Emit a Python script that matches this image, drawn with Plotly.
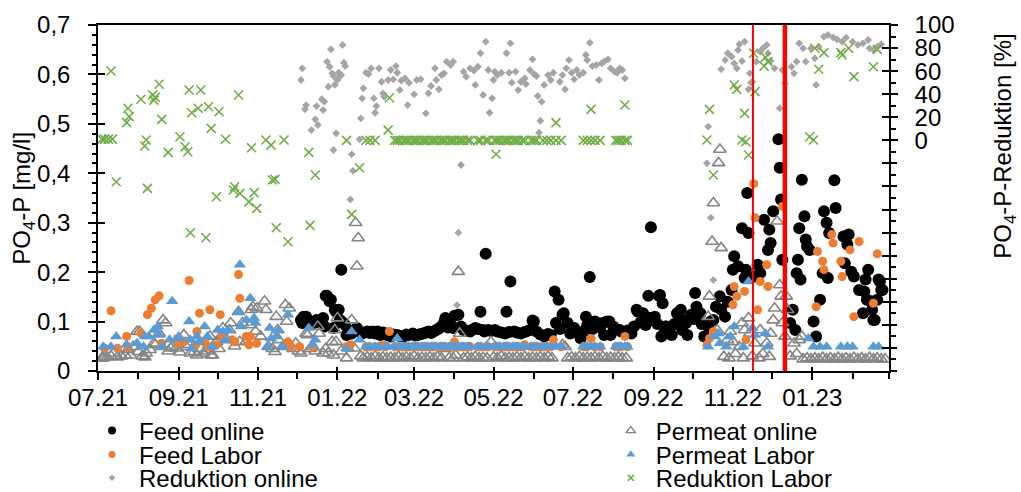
import plotly.graph_objects as go

# ---------------- data ----------------
feed_online_dates = [
    "2021-12-04", "2021-12-05", "2021-12-06", "2021-12-08", "2021-12-09", "2021-12-11", "2021-12-14",
    "2021-12-16", "2021-12-19", "2021-12-20", "2021-12-21", "2021-12-22", "2021-12-23", "2021-12-24",
    "2021-12-26", "2021-12-27", "2021-12-29", "2021-12-30", "2021-12-31", "2022-01-02", "2022-01-03",
    "2022-01-04", "2022-01-05", "2022-01-07", "2022-01-08", "2022-01-10", "2022-01-12", "2022-01-14",
    "2022-01-16", "2022-01-18", "2022-01-20", "2022-01-22", "2022-01-24", "2022-01-26", "2022-01-28",
    "2022-01-30", "2022-02-01", "2022-02-03", "2022-02-05", "2022-02-07", "2022-02-09", "2022-02-11",
    "2022-02-13", "2022-02-16", "2022-02-18", "2022-02-21", "2022-02-23", "2022-02-25", "2022-02-28",
    "2022-03-02", "2022-03-04", "2022-03-06", "2022-03-08", "2022-03-10", "2022-03-12", "2022-03-14",
    "2022-03-16", "2022-03-18", "2022-03-20", "2022-03-22", "2022-03-24", "2022-03-25", "2022-03-27",
    "2022-03-29", "2022-03-31", "2022-04-01", "2022-04-04", "2022-04-06", "2022-04-08", "2022-04-10",
    "2022-04-13", "2022-04-15", "2022-04-17", "2022-04-19", "2022-04-21", "2022-04-23", "2022-04-24",
    "2022-04-25", "2022-04-27", "2022-04-29", "2022-05-02", "2022-05-04", "2022-05-07", "2022-05-10",
    "2022-05-11", "2022-05-13", "2022-05-14", "2022-05-17", "2022-05-19", "2022-05-22", "2022-05-25",
    "2022-05-28", "2022-05-31", "2022-06-01", "2022-06-03", "2022-06-06", "2022-06-09", "2022-06-12",
    "2022-06-14", "2022-06-17", "2022-06-18", "2022-06-20", "2022-06-21", "2022-06-23", "2022-06-24",
    "2022-06-27", "2022-06-29", "2022-07-02", "2022-07-04", "2022-07-07", "2022-07-09", "2022-07-11",
    "2022-07-12", "2022-07-14", "2022-07-16", "2022-07-18", "2022-07-20", "2022-07-22", "2022-07-24",
    "2022-07-25", "2022-07-27", "2022-07-29", "2022-07-30", "2022-08-01", "2022-08-03", "2022-08-06",
    "2022-08-07", "2022-08-10", "2022-08-12", "2022-08-15", "2022-08-17", "2022-08-19", "2022-08-20",
    "2022-08-22", "2022-08-24", "2022-08-25", "2022-08-26", "2022-08-28", "2022-08-29", "2022-08-30",
    "2022-08-31", "2022-09-02", "2022-09-04", "2022-09-05", "2022-09-06", "2022-09-07", "2022-09-08",
    "2022-09-09", "2022-09-10", "2022-09-11", "2022-09-13", "2022-09-15", "2022-09-17", "2022-09-19",
    "2022-09-22", "2022-09-23", "2022-09-24", "2022-09-26", "2022-09-27", "2022-09-30", "2022-10-02",
    "2022-10-03", "2022-10-04", "2022-10-07", "2022-10-08", "2022-10-10", "2022-10-13", "2022-10-15",
    "2022-10-17", "2022-10-19", "2022-10-22", "2022-10-23", "2022-10-26", "2022-10-28", "2022-10-31",
    "2022-11-01", "2022-11-02", "2022-11-05", "2022-11-08", "2022-11-10", "2022-11-11", "2022-11-12",
    "2022-11-13", "2022-11-18", "2022-11-20", "2022-11-22", "2022-11-25", "2022-11-28", "2022-11-29",
    "2022-11-30", "2022-12-02", "2022-12-06", "2022-12-07", "2022-12-08", "2022-12-09", "2022-12-15",
    "2022-12-17", "2022-12-19", "2022-12-20", "2022-12-21", "2022-12-22", "2022-12-23", "2022-12-24",
    "2022-12-26", "2022-12-27", "2022-12-28", "2022-12-30", "2023-01-02", "2023-01-04", "2023-01-07",
    "2023-01-09", "2023-01-10", "2023-01-12", "2023-01-13", "2023-01-14", "2023-01-18", "2023-01-19",
    "2023-01-25", "2023-01-26", "2023-01-28", "2023-01-29", "2023-01-31", "2023-02-02", "2023-02-06",
    "2023-02-09", "2023-02-10", "2023-02-11", "2023-02-12", "2023-02-13", "2023-02-15", "2023-02-16",
    "2023-02-17", "2023-02-18", "2023-02-20", "2023-02-21", "2023-02-22", "2023-02-23", "2023-02-24",
]
feed_online_values = [
    0.103, 0.097, 0.110, 0.110, 0.100, 0.097, 0.097,
    0.103, 0.100, 0.097, 0.107, 0.090, 0.152, 0.152,
    0.141, 0.144, 0.087, 0.124, 0.120, 0.124, 0.103,
    0.205, 0.098, 0.093, 0.073, 0.080, 0.076, 0.083,
    0.087, 0.080, 0.076, 0.078, 0.080, 0.077, 0.080,
    0.076, 0.080, 0.073, 0.078, 0.076, 0.072, 0.070,
    0.074, 0.073, 0.071, 0.070, 0.074, 0.073, 0.076,
    0.072, 0.073, 0.075, 0.076, 0.078, 0.080, 0.077,
    0.080, 0.083, 0.086, 0.090, 0.098, 0.107, 0.088,
    0.093, 0.087, 0.112, 0.114, 0.090, 0.083, 0.082,
    0.080, 0.084, 0.087, 0.085, 0.120, 0.083, 0.080,
    0.237, 0.083, 0.081, 0.083, 0.080, 0.078, 0.076,
    0.120, 0.079, 0.181, 0.080, 0.078, 0.076, 0.079,
    0.082, 0.102, 0.100, 0.080, 0.074, 0.070, 0.075,
    0.073, 0.161, 0.097, 0.144, 0.085, 0.114, 0.117,
    0.097, 0.076, 0.087, 0.078, 0.066, 0.080, 0.110,
    0.093, 0.190, 0.085, 0.100, 0.093, 0.088, 0.097,
    0.073, 0.100, 0.100, 0.073, 0.090, 0.085, 0.083,
    0.080, 0.078, 0.082, 0.076, 0.090, 0.124, 0.120,
    0.098, 0.117, 0.110, 0.093, 0.152, 0.107, 0.291,
    0.103, 0.110, 0.095, 0.152, 0.154, 0.070, 0.137,
    0.076, 0.090, 0.090, 0.085, 0.073, 0.095, 0.117,
    0.124, 0.083, 0.103, 0.097, 0.073, 0.114, 0.105,
    0.158, 0.130, 0.117, 0.095, 0.070, 0.090, 0.100,
    0.103, 0.130, 0.151, 0.124, 0.110, 0.140, 0.164,
    0.205, 0.232, 0.212, 0.289, 0.188, 0.205, 0.360,
    0.279, 0.191, 0.215, 0.198, 0.306, 0.245, 0.286,
    0.259, 0.323, 0.469, 0.411, 0.347, 0.225, 0.097,
    0.124, 0.083, 0.198, 0.225, 0.289, 0.185, 0.387,
    0.313, 0.266, 0.252, 0.245, 0.100, 0.070, 0.144,
    0.198, 0.323, 0.300, 0.188, 0.279, 0.386, 0.330,
    0.272, 0.218, 0.256, 0.276, 0.201, 0.191, 0.164,
    0.117, 0.161, 0.185, 0.144, 0.205, 0.141, 0.124,
    0.103, 0.103, 0.144, 0.185, 0.181, 0.164, 0.164,
]

permeat_online_dates = [
    "2021-07-04", "2021-07-05", "2021-07-06", "2021-07-08", "2021-07-11", "2021-07-13", "2021-07-16",
    "2021-07-19", "2021-07-22", "2021-07-24", "2021-07-26", "2021-07-28", "2021-07-31", "2021-08-01",
    "2021-08-02", "2021-08-04", "2021-08-06", "2021-08-07", "2021-08-10", "2021-08-13", "2021-08-14",
    "2021-08-17", "2021-08-19", "2021-08-20", "2021-08-22", "2021-08-24", "2021-08-26", "2021-08-27",
    "2021-08-30", "2021-09-02", "2021-09-05", "2021-09-07", "2021-09-09", "2021-09-10", "2021-09-13",
    "2021-09-15", "2021-09-18", "2021-09-20", "2021-09-23", "2021-09-25", "2021-09-26", "2021-09-27",
    "2021-09-30", "2021-10-02", "2021-10-04", "2021-10-05", "2021-10-08", "2021-10-10", "2021-10-11",
    "2021-10-14", "2021-10-17", "2021-10-18", "2021-10-20", "2021-10-23", "2021-10-26", "2021-10-27",
    "2021-10-28", "2021-10-30", "2021-10-31", "2021-11-03", "2021-11-06", "2021-11-07", "2021-11-09",
    "2021-11-12", "2021-11-14", "2021-11-15", "2021-11-16", "2021-11-17", "2021-11-20", "2021-11-22",
    "2021-11-23", "2021-11-25", "2021-11-28", "2021-11-30", "2021-12-02", "2021-12-04", "2021-12-08",
    "2021-12-09", "2021-12-11", "2021-12-13", "2021-12-15", "2021-12-17", "2021-12-18", "2021-12-21",
    "2021-12-23", "2021-12-25", "2021-12-28", "2021-12-29", "2021-12-30", "2021-12-31", "2022-01-01",
    "2022-01-04", "2022-01-08", "2022-01-09", "2022-01-12", "2022-01-14", "2022-01-15", "2022-01-16",
    "2022-01-17", "2022-01-19", "2022-01-21", "2022-01-24", "2022-01-27", "2022-01-30", "2022-02-02",
    "2022-02-05", "2022-02-08", "2022-02-11", "2022-02-14", "2022-02-17", "2022-02-20", "2022-02-23",
    "2022-02-26", "2022-03-01", "2022-03-04", "2022-03-07", "2022-03-10", "2022-03-13", "2022-03-16",
    "2022-03-19", "2022-03-22", "2022-03-25", "2022-03-28", "2022-03-31", "2022-04-02", "2022-04-04",
    "2022-04-05", "2022-04-08", "2022-04-11", "2022-04-14", "2022-04-17", "2022-04-20", "2022-04-23",
    "2022-04-26", "2022-04-29", "2022-05-01", "2022-05-04", "2022-05-07", "2022-05-10", "2022-05-13",
    "2022-05-16", "2022-05-19", "2022-05-22", "2022-05-25", "2022-05-28", "2022-05-31", "2022-06-03",
    "2022-06-06", "2022-06-09", "2022-06-12", "2022-06-15", "2022-06-23", "2022-06-25", "2022-06-27",
    "2022-06-30", "2022-07-03", "2022-07-06", "2022-07-09", "2022-07-12", "2022-07-15", "2022-07-18",
    "2022-07-21", "2022-07-24", "2022-07-27", "2022-07-30", "2022-08-02", "2022-08-05", "2022-08-08",
    "2022-08-11", "2022-10-13", "2022-10-14", "2022-10-16", "2022-10-17", "2022-10-20", "2022-10-21",
    "2022-10-22", "2022-10-23", "2022-10-25", "2022-10-28", "2022-10-29", "2022-10-30", "2022-11-01",
    "2022-11-03", "2022-11-06", "2022-11-08", "2022-11-09", "2022-11-10", "2022-11-13", "2022-11-14",
    "2022-11-16", "2022-11-18", "2022-11-21", "2022-11-22", "2022-11-24", "2022-11-27", "2022-11-29",
    "2022-11-30", "2022-12-02", "2022-12-03", "2022-12-05", "2022-12-07", "2022-12-08", "2022-12-09",
    "2022-12-11", "2022-12-12", "2022-12-13", "2022-12-15", "2022-12-18", "2022-12-20", "2022-12-22",
    "2022-12-24", "2022-12-25", "2022-12-28", "2022-12-31", "2023-01-03", "2023-01-06", "2023-01-09",
    "2023-01-12", "2023-01-15", "2023-01-18", "2023-01-21", "2023-01-24", "2023-01-27", "2023-01-30",
    "2023-02-02", "2023-02-05", "2023-02-08", "2023-02-11", "2023-02-14", "2023-02-17", "2023-02-20",
    "2023-02-23", "2023-02-26",
]
permeat_online_values = [
    0.026, 0.026, 0.029, 0.028, 0.030, 0.036, 0.028,
    0.030, 0.032, 0.043, 0.032, 0.049, 0.080, 0.039,
    0.080, 0.030, 0.028, 0.036, 0.043, 0.056, 0.053,
    0.076, 0.049, 0.103, 0.097, 0.040, 0.046, 0.049,
    0.046, 0.038, 0.073, 0.049, 0.053, 0.036, 0.039,
    0.032, 0.045, 0.036, 0.040, 0.070, 0.032, 0.032,
    0.059, 0.045, 0.070, 0.087, 0.063, 0.083, 0.097,
    0.050, 0.120, 0.059, 0.097, 0.060, 0.093, 0.124,
    0.130, 0.080, 0.127, 0.070, 0.141, 0.124, 0.049,
    0.045, 0.039, 0.110, 0.083, 0.063, 0.049, 0.134,
    0.100, 0.127, 0.045, 0.056, 0.040, 0.036, 0.076,
    0.073, 0.045, 0.049, 0.040, 0.090, 0.076, 0.036,
    0.045, 0.036, 0.059, 0.032, 0.083, 0.059, 0.107,
    0.040, 0.026, 0.046, 0.103, 0.046, 0.300, 0.212,
    0.269, 0.030, 0.026, 0.028, 0.026, 0.030, 0.026,
    0.028, 0.026, 0.027, 0.026, 0.029, 0.026, 0.028,
    0.026, 0.030, 0.026, 0.027, 0.026, 0.028, 0.026,
    0.029, 0.026, 0.045, 0.027, 0.026, 0.032, 0.201,
    0.076, 0.026, 0.028, 0.026, 0.029, 0.026, 0.027,
    0.026, 0.059, 0.028, 0.026, 0.030, 0.026, 0.027,
    0.026, 0.028, 0.026, 0.029, 0.026, 0.027, 0.026,
    0.028, 0.026, 0.029, 0.026, 0.053, 0.049, 0.026,
    0.028, 0.026, 0.029, 0.026, 0.027, 0.026, 0.028,
    0.026, 0.029, 0.026, 0.027, 0.026, 0.028, 0.026,
    0.026, 0.110, 0.151, 0.262, 0.340, 0.083, 0.421,
    0.448, 0.249, 0.029, 0.063, 0.026, 0.080, 0.059,
    0.035, 0.049, 0.097, 0.026, 0.083, 0.107, 0.076,
    0.030, 0.056, 0.026, 0.083, 0.035, 0.056, 0.029,
    0.076, 0.103, 0.127, 0.303, 0.174, 0.151, 0.097,
    0.070, 0.151, 0.124, 0.030, 0.056, 0.035, 0.063,
    0.070, 0.024, 0.026, 0.024, 0.026, 0.024, 0.027,
    0.024, 0.026, 0.024, 0.027, 0.024, 0.026, 0.024,
    0.027, 0.024, 0.026, 0.024, 0.027, 0.024, 0.026,
    0.024, 0.024,
]

feed_labor_dates = [
    "2021-07-06", "2021-07-11", "2021-07-16", "2021-07-23", "2021-07-24", "2021-08-03", "2021-08-08",
    "2021-08-11", "2021-08-14", "2021-08-17", "2021-08-19", "2021-08-31", "2021-09-01", "2021-09-05",
    "2021-09-09", "2021-09-14", "2021-09-15", "2021-09-17", "2021-09-21", "2021-09-24", "2021-09-25",
    "2021-09-30", "2021-10-03", "2021-10-04", "2021-10-12", "2021-10-14", "2021-10-17", "2021-10-18",
    "2021-10-23", "2021-10-25", "2021-10-26", "2021-10-31", "2021-11-24", "2021-11-26", "2021-12-03",
    "2021-12-13", "2022-01-08", "2022-01-11", "2022-01-23", "2022-01-26", "2022-01-30", "2022-02-02",
    "2022-02-05", "2022-02-07", "2022-02-10", "2022-02-14", "2022-02-16", "2022-02-18", "2022-02-21",
    "2022-02-23", "2022-02-25", "2022-02-28", "2022-03-02", "2022-03-04", "2022-03-07", "2022-03-09",
    "2022-03-11", "2022-03-14", "2022-03-16", "2022-03-18", "2022-03-21", "2022-03-23", "2022-03-25",
    "2022-03-28", "2022-03-30", "2022-04-01", "2022-04-04", "2022-04-06", "2022-04-08", "2022-04-11",
    "2022-04-13", "2022-04-19", "2022-04-21", "2022-04-25", "2022-04-27", "2022-05-02", "2022-05-04",
    "2022-05-06", "2022-05-09", "2022-05-11", "2022-05-13", "2022-05-16", "2022-05-18", "2022-05-20",
    "2022-05-23", "2022-05-25", "2022-05-30", "2022-06-01", "2022-06-03", "2022-06-05", "2022-06-08",
    "2022-06-11", "2022-06-14", "2022-06-16", "2022-06-22", "2022-07-09", "2022-07-12", "2022-07-15",
    "2022-07-18", "2022-07-22", "2022-08-03", "2022-08-05", "2022-08-07", "2022-08-10", "2022-08-12",
    "2022-10-12", "2022-10-14", "2022-10-17", "2022-11-01", "2022-11-02", "2022-11-04", "2022-11-10",
    "2022-11-11", "2022-11-17", "2022-11-18", "2022-11-20", "2022-11-22", "2022-11-27", "2022-11-28",
    "2022-12-09", "2023-01-04", "2023-01-05", "2023-01-09", "2023-01-10", "2023-01-16", "2023-01-17",
    "2023-01-23", "2023-01-24", "2023-01-30", "2023-02-02", "2023-02-06", "2023-02-17", "2023-02-20",
]
feed_labor_values = [
    0.046, 0.122, 0.046, 0.070, 0.049, 0.076, 0.114,
    0.127, 0.144, 0.152, 0.056, 0.066, 0.056, 0.059,
    0.183, 0.053, 0.080, 0.117, 0.059, 0.049, 0.124,
    0.053, 0.114, 0.070, 0.063, 0.059, 0.195, 0.147,
    0.070, 0.053, 0.070, 0.056, 0.059, 0.049, 0.049,
    0.049, 0.049, 0.053, 0.049, 0.049, 0.049, 0.049,
    0.053, 0.049, 0.080, 0.049, 0.049, 0.049, 0.049,
    0.049, 0.049, 0.049, 0.049, 0.049, 0.049, 0.049,
    0.049, 0.049, 0.049, 0.049, 0.049, 0.049, 0.049,
    0.049, 0.049, 0.059, 0.049, 0.049, 0.049, 0.049,
    0.049, 0.049, 0.049, 0.049, 0.049, 0.049, 0.049,
    0.049, 0.049, 0.049, 0.049, 0.049, 0.049, 0.049,
    0.049, 0.053, 0.049, 0.049, 0.049, 0.049, 0.049,
    0.049, 0.049, 0.063, 0.049, 0.049, 0.049, 0.066,
    0.049, 0.049, 0.049, 0.049, 0.049, 0.070, 0.049,
    0.053, 0.066, 0.080, 0.134, 0.171, 0.151, 0.161,
    0.063, 0.379, 0.310, 0.124, 0.181, 0.215, 0.171,
    0.333, 0.130, 0.242, 0.222, 0.205, 0.276, 0.259,
    0.222, 0.191, 0.245, 0.110, 0.262, 0.137, 0.237,
]

permeat_labor_dates = [
    "2021-07-05", "2021-07-11", "2021-07-15", "2021-07-23", "2021-07-31", "2021-08-05", "2021-08-06",
    "2021-08-09", "2021-08-13", "2021-08-16", "2021-08-17", "2021-08-19", "2021-08-25", "2021-08-27",
    "2021-09-01", "2021-09-02", "2021-09-09", "2021-09-10", "2021-09-11", "2021-09-15", "2021-09-17",
    "2021-09-21", "2021-09-23", "2021-09-27", "2021-10-01", "2021-10-05", "2021-10-07", "2021-10-09",
    "2021-10-17", "2021-10-18", "2021-10-19", "2021-10-23", "2021-10-26", "2021-10-29", "2021-10-30",
    "2021-11-08", "2021-11-10", "2021-11-11", "2021-11-15", "2021-11-17", "2021-11-20", "2021-11-24",
    "2021-12-10", "2021-12-13", "2021-12-15", "2022-01-08", "2022-01-12", "2022-01-18", "2022-01-23",
    "2022-01-26", "2022-01-30", "2022-02-02", "2022-02-07", "2022-02-09", "2022-02-14", "2022-02-16",
    "2022-02-18", "2022-02-21", "2022-02-23", "2022-02-25", "2022-02-28", "2022-03-02", "2022-03-04",
    "2022-03-07", "2022-03-09", "2022-03-11", "2022-03-14", "2022-03-16", "2022-03-18", "2022-03-21",
    "2022-03-23", "2022-03-25", "2022-03-28", "2022-03-30", "2022-04-01", "2022-04-04", "2022-04-06",
    "2022-04-08", "2022-04-11", "2022-04-13", "2022-04-19", "2022-04-21", "2022-04-25", "2022-04-27",
    "2022-05-02", "2022-05-04", "2022-05-06", "2022-05-09", "2022-05-11", "2022-05-13", "2022-05-16",
    "2022-05-18", "2022-05-20", "2022-05-23", "2022-05-25", "2022-05-30", "2022-06-01", "2022-06-03",
    "2022-06-08", "2022-06-11", "2022-06-14", "2022-06-18", "2022-06-22", "2022-07-09", "2022-07-12",
    "2022-07-15", "2022-07-18", "2022-07-22", "2022-08-03", "2022-08-05", "2022-08-07", "2022-08-10",
    "2022-08-12", "2022-10-13", "2022-10-18", "2022-10-21", "2022-10-22", "2022-10-27", "2022-10-30",
    "2022-11-02", "2022-11-09", "2022-11-13", "2022-11-16", "2022-11-18", "2022-11-26", "2022-11-28",
    "2022-12-29", "2023-01-02", "2023-01-07", "2023-01-12", "2023-01-23", "2023-01-28", "2023-02-01",
    "2023-02-17", "2023-02-21",
]
permeat_labor_values = [
    0.049, 0.049, 0.070, 0.053, 0.056, 0.049, 0.070,
    0.070, 0.083, 0.090, 0.073, 0.049, 0.063, 0.141,
    0.070, 0.066, 0.100, 0.063, 0.046, 0.070, 0.059,
    0.090, 0.070, 0.049, 0.083, 0.080, 0.063, 0.083,
    0.120, 0.215, 0.090, 0.103, 0.147, 0.107, 0.097,
    0.049, 0.087, 0.066, 0.070, 0.083, 0.049, 0.114,
    0.087, 0.053, 0.063, 0.046, 0.080, 0.063, 0.049,
    0.049, 0.049, 0.049, 0.049, 0.049, 0.049, 0.066,
    0.049, 0.049, 0.049, 0.049, 0.049, 0.049, 0.049,
    0.049, 0.049, 0.049, 0.049, 0.049, 0.049, 0.049,
    0.049, 0.049, 0.049, 0.049, 0.049, 0.049, 0.049,
    0.049, 0.049, 0.049, 0.049, 0.049, 0.049, 0.049,
    0.049, 0.049, 0.049, 0.049, 0.049, 0.049, 0.049,
    0.049, 0.049, 0.049, 0.049, 0.049, 0.049, 0.049,
    0.049, 0.049, 0.049, 0.049, 0.049, 0.049, 0.049,
    0.049, 0.049, 0.049, 0.049, 0.049, 0.049, 0.049,
    0.049, 0.049, 0.070, 0.076, 0.056, 0.049, 0.070,
    0.090, 0.049, 0.181, 0.087, 0.073, 0.076, 0.049,
    0.066, 0.049, 0.049, 0.049, 0.049, 0.049, 0.049,
    0.049, 0.049,
]

reduktion_online_dates = [
    "2021-12-04", "2021-12-05", "2021-12-07", "2021-12-08", "2021-12-12", "2021-12-15", "2021-12-16",
    "2021-12-17", "2021-12-20", "2021-12-21", "2021-12-22", "2021-12-24", "2021-12-25", "2021-12-26",
    "2021-12-27", "2021-12-28", "2021-12-29", "2021-12-29", "2021-12-30", "2021-12-31", "2022-01-01",
    "2022-01-02", "2022-01-03", "2022-01-04", "2022-01-05", "2022-01-06", "2022-01-07", "2022-01-11",
    "2022-01-12", "2022-01-13", "2022-01-18", "2022-01-19", "2022-01-20", "2022-01-21", "2022-01-23",
    "2022-01-25", "2022-01-27", "2022-01-29", "2022-01-30", "2022-01-31", "2022-02-02", "2022-02-04",
    "2022-02-05", "2022-02-06", "2022-02-09", "2022-02-11", "2022-02-13", "2022-02-15", "2022-02-16",
    "2022-02-18", "2022-02-19", "2022-02-22", "2022-02-24", "2022-02-25", "2022-03-01", "2022-03-03",
    "2022-03-06", "2022-03-10", "2022-03-12", "2022-03-14", "2022-03-17", "2022-03-18", "2022-03-20",
    "2022-03-22", "2022-03-24", "2022-03-26", "2022-03-29", "2022-03-31", "2022-04-03", "2022-04-04",
    "2022-04-06", "2022-04-08", "2022-04-10", "2022-04-13", "2022-04-16", "2022-04-17", "2022-04-19",
    "2022-04-21", "2022-04-23", "2022-04-25", "2022-04-27", "2022-04-28", "2022-04-30", "2022-05-01",
    "2022-05-02", "2022-05-04", "2022-05-07", "2022-05-11", "2022-05-13", "2022-05-14", "2022-05-15",
    "2022-05-18", "2022-05-20", "2022-05-22", "2022-05-25", "2022-05-26", "2022-05-29", "2022-05-31",
    "2022-06-01", "2022-06-03", "2022-06-04", "2022-06-05", "2022-06-06", "2022-06-07", "2022-06-09",
    "2022-06-12", "2022-06-14", "2022-06-16", "2022-06-21", "2022-06-23", "2022-06-25", "2022-06-26",
    "2022-06-28", "2022-06-30", "2022-07-02", "2022-07-04", "2022-07-06", "2022-07-09", "2022-07-11",
    "2022-07-12", "2022-07-14", "2022-07-16", "2022-07-19", "2022-07-21", "2022-07-23", "2022-07-25",
    "2022-07-28", "2022-07-30", "2022-08-02", "2022-08-04", "2022-08-06", "2022-08-08", "2022-08-10",
    "2022-10-12", "2022-10-13", "2022-10-15", "2022-10-17", "2022-10-23", "2022-10-26", "2022-10-28",
    "2022-10-31", "2022-11-02", "2022-11-04", "2022-11-05", "2022-11-06", "2022-11-08", "2022-11-10",
    "2022-11-13", "2022-11-14", "2022-11-15", "2022-11-16", "2022-11-19", "2022-11-22", "2022-11-24",
    "2022-11-27", "2022-11-28", "2022-11-30", "2022-12-03", "2022-12-07", "2022-12-09", "2022-12-11",
    "2022-12-16", "2022-12-18", "2022-12-20", "2022-12-22", "2022-12-25", "2022-12-27", "2022-12-31",
    "2023-01-03", "2023-01-04", "2023-01-06", "2023-01-10", "2023-01-13", "2023-01-17", "2023-01-20",
    "2023-01-24", "2023-01-27", "2023-02-01", "2023-02-05", "2023-02-09", "2023-02-13", "2023-02-14",
    "2023-02-17", "2023-02-20", "2023-02-23",
]
reduktion_online_values = [
    52.3, 62.4, 26.9, 30.6, 8.9, 18.2, 29.7,
    13.3, 35.6, 26.3, 33.5, 68.2, 46.5, 63.8,
    78.9, 58.1, 55.8, -8.4, 48.0, 6.1, 52.3,
    58.6, 55.8, 56.6, 82.7, 67.3, 64.4, -51.2,
    -12.1, -26.4, 0.9, 19.1, 36.4, 45.1, 58.6,
    57.5, 62.4, 36.4, 23.9, 29.7, 62.4, 50.8,
    40.8, 37.8, 52.3, 61.0, 52.9, 64.4, 58.6,
    43.6, 51.7, 53.8, 30.6, 50.0, 39.9, 52.3,
    52.9, 23.4, 40.8, 47.1, 62.4, 52.3, 44.2,
    56.6, 58.1, 68.2, 65.3, 68.2, -142.8, -80.1,
    -21.4, 59.5, 55.2, 62.4, 60.4, 48.0, 63.8,
    75.5, 39.3, 85.5, 61.0, 23.9, 36.4, 52.3,
    59.5, 56.6, 58.6, 75.5, 58.6, 84.1, 50.0,
    59.5, 43.6, 50.8, 53.8, 48.8, 61.0, 70.2,
    57.5, 55.8, 38.4, 6.6, 17.0, 33.5, 48.0,
    56.6, 52.3, 58.6, 50.8, 56.6, 44.2, 62.4,
    69.6, 58.6, 52.9, 61.0, 56.6, 58.6, 74.0,
    69.6, 84.6, 64.4, 65.3, 52.3, 66.8, 68.2,
    70.2, 62.4, 59.5, 58.6, 62.4, 61.0, 53.8,
    -19.9, 11.8, -67.1, -121.2, 61.6, 69.6, 75.5,
    72.5, 66.8, 62.4, 78.3, 83.3, 68.8, 85.5,
    44.2, 58.1, 50.0, 50.8, 68.2, 76.8, 79.8,
    82.7, 75.5, 68.8, 62.4, 27.8, 61.0, 49.4,
    63.8, 58.1, 68.2, 84.1, 79.8, 68.2, 79.8,
    71.1, 48.0, 81.2, 89.9, 91.4, 89.3, 87.6,
    85.5, 89.0, 85.5, 82.7, 84.1, 87.0, 79.8,
    78.3, 81.2, 83.3,
]

reduktion_labor_dates = [
    "2021-07-04", "2021-07-06", "2021-07-09", "2021-07-11", "2021-07-12", "2021-07-15", "2021-07-23",
    "2021-07-24", "2021-07-25", "2021-08-03", "2021-08-06", "2021-08-07", "2021-08-08", "2021-08-12",
    "2021-08-13", "2021-08-14", "2021-08-17", "2021-08-19", "2021-08-24", "2021-09-02", "2021-09-06",
    "2021-09-08", "2021-09-09", "2021-09-10", "2021-09-11", "2021-09-16", "2021-09-18", "2021-09-22",
    "2021-09-24", "2021-09-26", "2021-09-30", "2021-10-02", "2021-10-07", "2021-10-13", "2021-10-14",
    "2021-10-17", "2021-10-18", "2021-10-25", "2021-10-27", "2021-10-29", "2021-10-31", "2021-11-07",
    "2021-11-11", "2021-11-12", "2021-11-14", "2021-11-15", "2021-11-21", "2021-11-24", "2021-12-10",
    "2021-12-11", "2021-12-15", "2022-01-08", "2022-01-12", "2022-01-18", "2022-01-23", "2022-01-26",
    "2022-01-30", "2022-02-09", "2022-02-10", "2022-02-14", "2022-02-16", "2022-02-18", "2022-02-21",
    "2022-02-23", "2022-02-25", "2022-02-28", "2022-03-02", "2022-03-04", "2022-03-07", "2022-03-09",
    "2022-03-11", "2022-03-14", "2022-03-16", "2022-03-18", "2022-03-21", "2022-03-23", "2022-03-25",
    "2022-03-28", "2022-03-30", "2022-04-01", "2022-04-04", "2022-04-06", "2022-04-08", "2022-04-11",
    "2022-04-13", "2022-04-19", "2022-04-21", "2022-04-25", "2022-04-27", "2022-05-02", "2022-05-03",
    "2022-05-04", "2022-05-06", "2022-05-09", "2022-05-11", "2022-05-13", "2022-05-16", "2022-05-18",
    "2022-05-20", "2022-05-23", "2022-05-25", "2022-05-30", "2022-06-01", "2022-06-03", "2022-06-08",
    "2022-06-11", "2022-06-14", "2022-06-18", "2022-06-18", "2022-06-22", "2022-07-09", "2022-07-12",
    "2022-07-15", "2022-07-15", "2022-07-18", "2022-07-22", "2022-08-03", "2022-08-05", "2022-08-07",
    "2022-08-10", "2022-08-10", "2022-08-12", "2022-10-12", "2022-10-14", "2022-10-17", "2022-11-02",
    "2022-11-04", "2022-11-08", "2022-11-10", "2022-11-11", "2022-11-13", "2022-11-17", "2022-11-18",
    "2022-11-25", "2022-11-26", "2022-11-28", "2022-12-30", "2023-01-02", "2023-01-03", "2023-01-06",
    "2023-01-10", "2023-01-23", "2023-01-24", "2023-01-29", "2023-02-02", "2023-02-17", "2023-02-20",
]
reduktion_labor_values = [
    1.0, 1.0, 1.0, 60.1, 1.0, -35.9, 15.3,
    27.8, 20.5, 35.6, -4.9, 0.3, -41.6, 39.3,
    34.9, 37.3, 48.6, 18.2, -10.4, 3.1, -5.6,
    -9.9, 43.6, -80.1, 23.9, 27.8, 43.6, -84.5,
    29.1, 10.4, -48.9, 24.8, 0.9, -43.1, -40.2,
    39.3, -46.0, -53.3, -6.4, -45.4, -59.0, 0.3,
    -4.1, -34.4, -33.8, -75.8, 0.3, -87.9, -10.4,
    -73.7, -30.1, 0.0, -64.2, -23.8, 0.0, 0.0,
    0.0, 8.9, 36.9, 0.0, 0.0, 0.0, 0.0,
    0.0, 0.0, 0.0, 0.0, 0.0, 0.0, 0.0,
    0.0, 0.0, 0.0, 0.0, 0.0, 0.0, 0.0,
    0.0, 0.0, 0.0, 0.0, 0.0, 0.0, 0.0,
    0.0, 0.0, 0.0, 0.0, 0.0, 0.0, -12.1,
    0.0, 0.0, 0.0, 0.0, 0.0, 0.0, 0.0,
    0.0, 0.0, 0.0, 0.0, 0.0, 0.0, 0.0,
    0.0, 0.0, 0.0, 15.3, 0.0, 0.0, 0.0,
    0.0, 26.9, 0.0, 0.0, 0.0, 0.0, 0.0,
    0.0, 30.6, 0.0, 0.3, 26.9, -30.1, 48.0,
    44.2, 0.3, 23.4, -1.2, -12.7, 75.5, 42.2,
    64.4, 72.0, 68.2, 3.1, 0.3, 79.8, 61.6,
    76.0, 76.0, 74.0, 79.8, 55.2, 63.8, 78.9,
]

# operating events marked as vertical lines
event_dates = ["2022-11-16 10:00", "2022-12-11"]
event_widths = [2, 4.5]

# axis settings
x_range = ["2021-07-01", "2023-03-01"]
x_tick_dates = ["2021-07-01", "2021-09-01", "2021-11-01", "2022-01-01", "2022-03-01",
                "2022-05-01", "2022-07-01", "2022-09-01", "2022-11-01", "2023-01-01"]
x_tick_labels = ["07.21", "09.21", "11.21", "01.22", "03.22", "05.22", "07.22", "09.22", "11.22", "01.23"]
conc_range = [0, 0.7]
red_range = [-200, 100]
red_label_values = [0, 20, 40, 60, 80, 100]
red_all_ticks = [-200, -180, -160, -140, -120, -100, -80, -60, -40, -20, 0, 20, 40, 60, 80, 100]
red_lower_ticks = [-200, -180, -160, -140, -120, -100, -80, -60, -40, -20]

# ---------------- styling ----------------
FONT = "Liberation Sans, Arial, sans-serif"
FS = 24
BLACK = "#000000"
ORANGE = "#ED7D31"
LGRAY = "#A5A5A5"
DGRAY = "#858585"
BLUE = "#5B9BD5"
GREEN = "#70AD47"
TICK = dict(tickwidth=1.5, tickcolor="#000000")

fig = go.Figure()

fig.add_trace(go.Scatter(x=feed_online_dates, y=feed_online_values, mode="markers",
                         marker=dict(symbol="circle", size=12, color=BLACK),
                         showlegend=False, name="Feed online"))
fig.add_trace(go.Scatter(x=permeat_online_dates, y=permeat_online_values, mode="markers",
                         marker=dict(symbol="triangle-up-open", size=11, color=DGRAY,
                                     line=dict(width=1.6, color=DGRAY)),
                         showlegend=False, name="Permeat online"))
fig.add_trace(go.Scatter(x=feed_labor_dates, y=feed_labor_values, mode="markers",
                         marker=dict(symbol="circle", size=9, color=ORANGE),
                         showlegend=False, name="Feed Labor"))
fig.add_trace(go.Scatter(x=permeat_labor_dates, y=permeat_labor_values, mode="markers",
                         marker=dict(symbol="triangle-up", size=11, color=BLUE),
                         showlegend=False, name="Permeat Labor"))
fig.add_trace(go.Scatter(x=reduktion_online_dates, y=reduktion_online_values, mode="markers",
                         yaxis="y2",
                         marker=dict(symbol="diamond", size=6, color=LGRAY),
                         showlegend=False, name="Reduktion online"))
fig.add_trace(go.Scatter(x=reduktion_labor_dates, y=reduktion_labor_values, mode="markers",
                         yaxis="y2",
                         marker=dict(symbol="x-thin", size=9, color=GREEN,
                                     line=dict(width=1.6, color=GREEN)),
                         showlegend=False, name="Reduktion Labor"))

# empty traces that carry the extra tick-mark axes (crossing ticks)
fig.add_trace(go.Scatter(x=[], y=[], xaxis="x2", yaxis="y3", showlegend=False, hoverinfo="skip"))
fig.add_trace(go.Scatter(x=[], y=[], xaxis="x2", yaxis="y4", showlegend=False, hoverinfo="skip"))
fig.add_trace(go.Scatter(x=[], y=[], xaxis="x2", yaxis="y5", showlegend=False, hoverinfo="skip"))

# legend entries (one small legend per entry, laid out in two columns)
legend_entries = [
    ("Feed online", dict(symbol="circle", size=8, color=BLACK), "legend"),
    ("Feed Labor", dict(symbol="circle", size=7, color=ORANGE), "legend2"),
    ("Reduktion online", dict(symbol="diamond", size=5, color=LGRAY), "legend3"),
    ("Permeat online", dict(symbol="triangle-up-open", size=8, color=DGRAY,
                            line=dict(width=1.4, color=DGRAY)), "legend4"),
    ("Permeat Labor", dict(symbol="triangle-up", size=8, color=BLUE), "legend5"),
    ("Reduktion Labor", dict(symbol="x-thin", size=6, color=GREEN,
                             line=dict(width=1.6, color=GREEN)), "legend6"),
]
for name, mk, lg in legend_entries:
    fig.add_trace(go.Scatter(x=[None], y=[None], mode="markers", marker=mk,
                             name=name, legend=lg, showlegend=True))

legend_rows = [-0.1734, -0.2428, -0.31]
legend_cols = [-0.0164, 0.642]
legend_item_widths = [44, 40]
legend_layout = {}
for i, key in enumerate(["legend", "legend2", "legend3", "legend4", "legend5", "legend6"]):
    legend_layout[key] = dict(
        x=legend_cols[i // 3], y=legend_rows[i % 3], xanchor="left", yanchor="middle",
        xref="paper", yref="paper", bgcolor="rgba(0,0,0,0)", borderwidth=0,
        font=dict(family=FONT, size=FS, color="#000000"), itemwidth=legend_item_widths[i // 3],
    )

axis_line = dict(showline=True, linecolor="#000000", linewidth=1.5, showgrid=False, zeroline=False)
bare = dict(showticklabels=False, showline=False, showgrid=False, zeroline=False)

fig.update_layout(
    width=1021, height=492,
    margin=dict(l=98, r=132, t=25, b=121, pad=0, autoexpand=False),
    paper_bgcolor="white", plot_bgcolor="white",
    separators=",.",
    font=dict(family=FONT, size=FS, color="#000000"),
    xaxis=dict(type="date", range=x_range, tickmode="array", tickvals=x_tick_dates,
               ticktext=x_tick_labels, ticks="outside", ticklen=7, mirror=True,
               minor=dict(dtick="M1", tick0="2021-07-01", ticks="outside", ticklen=6,
                          showgrid=False, **TICK),
               tickfont=dict(size=FS), ticklabelstandoff=-3, **TICK, **axis_line),
    xaxis2=dict(type="date", range=x_range, overlaying="x", anchor="y3", tickmode="array",
                tickvals=x_tick_dates, ticks="inside", ticklen=4, **TICK, **bare),
    yaxis=dict(range=conc_range, dtick=0.1, tick0=0, ticks="outside", ticklen=8,
               minor=dict(dtick=0.02, ticks="outside", ticklen=4, showgrid=False, **TICK),
               tickfont=dict(size=FS), ticklabelstandoff=13, **TICK, **axis_line),
    yaxis2=dict(range=red_range, overlaying="y", side="right", anchor="x",
                tickmode="array", tickvals=red_label_values,
                ticks="outside", ticklen=7,
                minor=dict(dtick=10, tick0=0, ticks="outside", ticklen=5, showgrid=False, **TICK),
                tickfont=dict(size=FS), ticklabelstandoff=12, **TICK, **axis_line),
    yaxis3=dict(range=conc_range, overlaying="y", anchor="x2", side="left", dtick=0.1, tick0=0,
                ticks="inside", ticklen=7, **TICK, **bare),
    yaxis4=dict(range=red_range, overlaying="y", anchor="x2", side="right",
                tickmode="array", tickvals=red_all_ticks,
                ticks="inside", ticklen=7, **TICK, **bare),
    yaxis5=dict(range=red_range, overlaying="y", anchor="x2", side="right",
                tickmode="array", tickvals=red_lower_ticks,
                ticks="outside", ticklen=7, **TICK, **bare),
    **legend_layout,
)

# axis titles
fig.add_annotation(text="PO<sub>4</sub>-P [mg/l]", xref="paper", yref="paper",
                   x=-0.095, y=0.5, textangle=-90, showarrow=False,
                   xanchor="center", yanchor="middle", font=dict(size=FS))
fig.add_annotation(text="PO<sub>4</sub>-P-Reduktion [%]", xref="paper", yref="paper",
                   x=1.145, y=0.65, textangle=-90, showarrow=False,
                   xanchor="center", yanchor="middle", font=dict(size=FS))

# vertical event markers
for d, w in zip(event_dates, event_widths):
    fig.add_shape(type="line", xref="x", yref="paper", x0=d, x1=d, y0=0, y1=1,
                  line=dict(color="#FF0000", width=w), layer="above")

fig.write_html("out.html")
